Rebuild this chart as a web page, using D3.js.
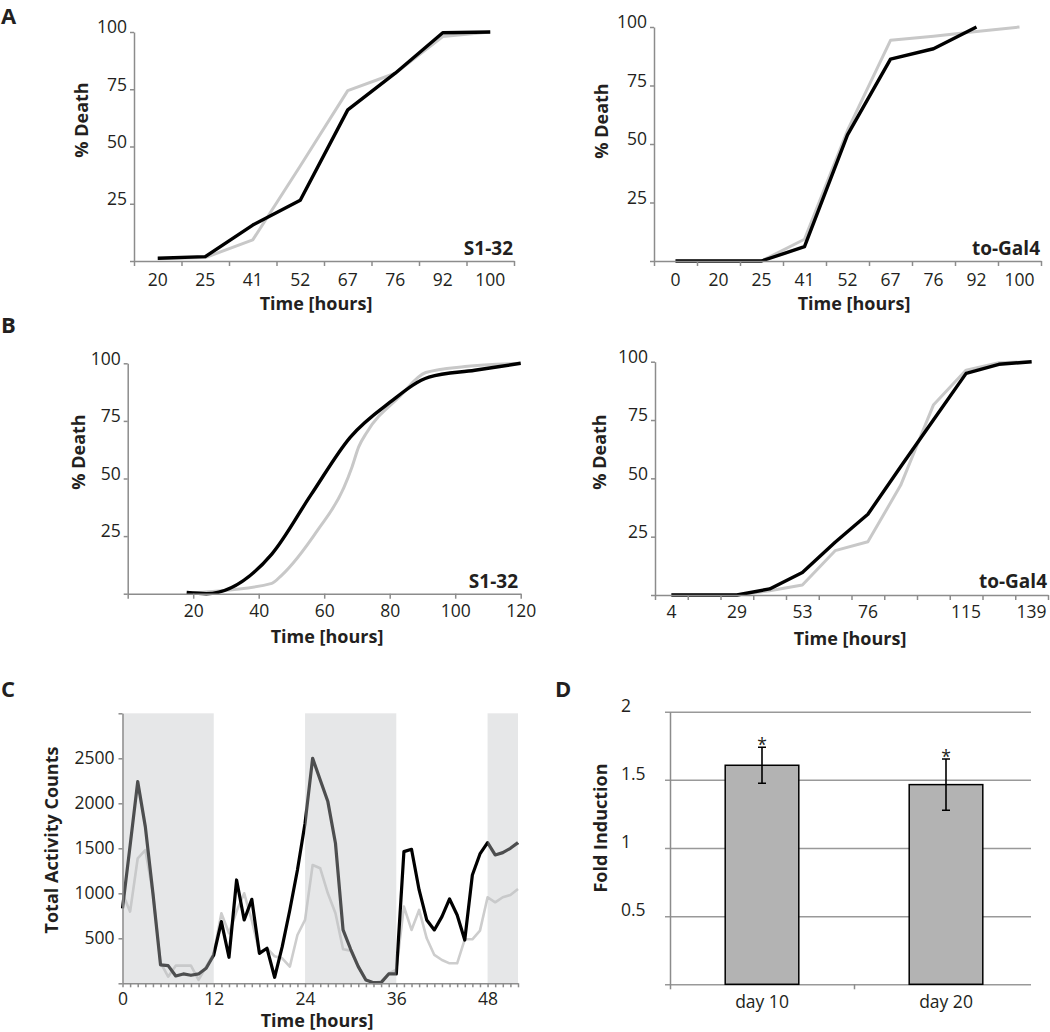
<!DOCTYPE html>
<meta charset="utf-8" />
<title>Survival curves, activity and fold induction</title>
<script src="https://cdn.jsdelivr.net/npm/d3@7/dist/d3.min.js"></script>

<style>
  body {
    margin: 0;
    padding: 0;
    background: #fff;
    font-family: "Open Sans", sans-serif;
  }

  .tick-label {
    font-family: "Open Sans", sans-serif;
    font-size: 17.5px;
    fill: #231f20;
  }

  .title {
    font-family: "Open Sans", sans-serif;
    font-size: 18px;
    font-weight: 700;
    fill: #231f20;
  }

  .caption {
    font-family: "Open Sans", sans-serif;
    font-size: 19px;
    font-weight: 700;
    fill: #231f20;
  }

  .letter {
    font-family: "Open Sans", sans-serif;
    font-size: 22px;
    font-weight: 700;
    fill: #231f20;
  }
</style>

<body>
  <svg id="fig" width="1050" height="1032"></svg>
</body>

<script>
  // ---- data ----

  // A: survival, categorical time axis
  const aLeftTimes = ["20", "25", "41", "52", "67", "76", "92", "100"];
  const aLeftBlack = [1.2, 1.9, 15.7, 26.5, 66, 82, 99.7, 100];
  const aLeftGray = [1, 1.5, 9.2, 41.5, 74.4, 82, 98, 100];

  const aRightTimes = ["0", "20", "25", "41", "52", "67", "76", "92", "100"];
  const aRightBlack = [0, 0, 0, 6.1, 53.9, 86.3, 90.7, 100];
  const aRightGray = [0, 0, 0, 9.3, 55.8, 94.3, 96, 98.1, 100];

  // B left: survival, linear time axis
  const bLeftBlackT = [18, 24, 44, 56, 68, 80, 92, 106, 120];
  const bLeftBlackV = [0.5, 0, 17.2, 43, 68, 83, 94, 97, 100];
  const bLeftGrayT = [19, 26, 44, 47, 58, 66, 68.5, 70.5, 73, 83, 91, 103, 120];
  const bLeftGrayV = [0.4, 1, 4.5, 8, 27.6, 46, 55, 63.6, 70, 85.5, 96, 98.6, 100];

  // B right: survival, categorical axis with only some labels printed
  const bRightLabels = ["4", "", "29", "", "53", "", "76", "", "", "115", "", "139"];
  const bRightBlack = [0, 0, 0, 2.6, 9.6, 22.6, 34.6, 55, 75, 95, 98.9, 100];
  const bRightGray = [0, 0, 0, 1.8, 4.3, 19, 22.8, 47, 81.4, 96.4, 99.6, 100];

  // C: activity counts, hourly
  const cHours = [0, 1, 2, 3, 4, 5, 6, 7, 8, 9, 10, 11, 12, 13, 14, 15, 16, 17, 18, 19, 20,
    21, 22, 23, 24, 25, 26, 27, 28, 29, 30, 31, 32, 33, 34, 35, 36, 37, 38, 39, 40,
    41, 42, 43, 44, 45, 46, 47, 48, 49, 50, 51, 52];
  const cBlack = [833, 1530, 2241, 1741, 1000, 204, 196, 81, 104, 89, 104, 167, 315,
    685, 289, 1148, 704, 933, 333, 389, 67, 407, 815, 1259, 1778,
    2500, 2259, 2019, 1556, 593, 378, 185, 37, 7, 7, 104, 104,
    1463, 1489, 1037, 704, 593, 741, 937, 759, 481, 1204, 1437,
    1563, 1426, 1452, 1500, 1563];
  const cGray = [1000, 796, 1389, 1481, 1000, 230, 74, 196, 196, 196, 37, 185, 333,
    778, 556, 800, 1000, 700, 340, 390, 300, 278, 185, 537, 704,
    1315, 1278, 1000, 778, 378, 363, 185, 44, 7, 19, 111, 150,
    852, 593, 815, 500, 315, 259, 222, 222, 489, 489, 585,
    956, 900, 956, 981, 1048];
  const cDark = [[0, 12], [24, 36], [48, 52]];
  const cYTicks = [0, 500, 1000, 1500, 2000, 2500, 3000];
  const cXTickLabels = [0, 12, 24, 36, 48];

  // D: fold induction
  const dDays = ["day 10", "day 20"];
  const dValues = [1.607, 1.465];
  const dErrors = [0.132, 0.188];
  const dYTicks = [0, 0.5, 1, 1.5, 2];

  // ---- drawing ----
  const axisColor = "#8c8c8c";
  const svg = d3.select("#fig");

  function styleAxis(g) {
    g.selectAll(".domain, .tick line")
      .attr("stroke", axisColor)
      .attr("stroke-width", 1.5);
    g.selectAll("text").attr("class", "tick-label").attr("fill", null);
    return g;
  }

  function addLine(data, x, y, color, width, curve) {
    svg.append("path")
      .datum(data)
      .attr("fill", "none")
      .attr("stroke", color)
      .attr("stroke-width", width)
      .attr("stroke-linejoin", "round")
      .attr("d", d3.line().x(x).y(y).curve(curve || d3.curveLinear));
  }

  function yTitle(text, x, y) {
    svg.append("text")
      .attr("class", "title")
      .attr("text-anchor", "middle")
      .attr("transform", "translate(" + x + "," + y + ") rotate(-90)")
      .text(text);
  }

  function xTitle(text, x, y) {
    svg.append("text")
      .attr("class", "title")
      .attr("text-anchor", "middle")
      .attr("x", x)
      .attr("y", y)
      .text(text);
  }

  function caption(text, x, y) {
    svg.append("text")
      .attr("class", "caption")
      .attr("text-anchor", "end")
      .attr("x", x)
      .attr("y", y)
      .text(text);
  }

  function deathAxisY(y, left) {
    const g = svg.append("g")
      .attr("transform", "translate(" + left + ",0)")
      .call(d3.axisLeft(y).tickValues([0, 25, 50, 75, 100]).tickSize(4).tickSizeOuter(0)
        .tickPadding(3).tickFormat(function (d) { return d ? d : ""; }));
    styleAxis(g);
    g.selectAll("text").attr("dy", "0.05em");
  }

  // survival panel on a category axis (ticks between categories)
  function bandPanel(p) {
    const n = p.labels.length;
    const y = d3.scaleLinear().domain([0, 100]).range([p.bottom, p.top]);
    const x = d3.scaleBand().domain(d3.range(n)).range([p.left, p.right]);
    const xEdge = d3.scaleLinear().domain([0, n]).range([p.left, p.right]);
    const cx = function (d, i) { return x(i) + x.bandwidth() / 2; };

    addLine(p.gray, cx, function (d) { return y(d); }, "#c8c8c8", 3);
    addLine(p.black, cx, function (d) { return y(d); }, "#000", 3.4);

    styleAxis(svg.append("g")
      .attr("transform", "translate(0," + p.bottom + ")")
      .call(d3.axisBottom(xEdge).tickValues(d3.range(n + 1)).tickSize(5).tickSizeOuter(0).tickFormat("")));

    const lab = svg.append("g")
      .attr("transform", "translate(0," + p.bottom + ")")
      .call(d3.axisBottom(x).tickSize(0).tickPadding(p.pad).tickFormat(function (i) { return p.labels[i]; }));
    lab.select(".domain").remove();
    styleAxis(lab);

    deathAxisY(y, p.left);
    caption(p.caption, p.right - 1, p.captionY);
  }

  // A
  bandPanel({ left: 134, right: 514, top: 32, bottom: 261, pad: 13,
    labels: aLeftTimes, black: aLeftBlack, gray: aLeftGray, caption: "S1-32", captionY: 255 });
  yTitle("% Death", 88, 120);
  xTitle("Time [hours]", 316, 310);

  bandPanel({ left: 654, right: 1041, top: 27, bottom: 261, pad: 13,
    labels: aRightTimes, black: aRightBlack, gray: aRightGray, caption: "to-Gal4", captionY: 255 });
  yTitle("% Death", 608, 121);
  xTitle("Time [hours]", 854, 310);

  // B left (linear hours)
  const xB1 = d3.scaleLinear().domain([0, 120]).range([127.7, 520.7]);
  const yB1 = d3.scaleLinear().domain([0, 100]).range([593.7, 363.3]);
  addLine(d3.zip(bLeftGrayT, bLeftGrayV), function (d) { return xB1(d[0]); },
    function (d) { return yB1(d[1]); }, "#c8c8c8", 3, d3.curveMonotoneX);
  addLine(d3.zip(bLeftBlackT, bLeftBlackV), function (d) { return xB1(d[0]); },
    function (d) { return yB1(d[1]); }, "#000", 3.4, d3.curveMonotoneX);
  styleAxis(svg.append("g")
    .attr("transform", "translate(0,593.7)")
    .call(d3.axisBottom(xB1).tickValues([0, 20, 40, 60, 80, 100, 120]).tickSize(5).tickSizeOuter(0)
      .tickPadding(6).tickFormat(function (d) { return d ? d : ""; })));
  deathAxisY(yB1, 127.7);
  caption("S1-32", 518, 588);
  yTitle("% Death", 85, 452);
  xTitle("Time [hours]", 327, 643);

  // B right
  bandPanel({ left: 655, right: 1048, top: 361.7, bottom: 595, pad: 11,
    labels: bRightLabels, black: bRightBlack, gray: bRightGray, caption: "to-Gal4", captionY: 588 });
  yTitle("% Death", 606, 452);
  xTitle("Time [hours]", 850, 645);

  // C
  const xC = d3.scaleLinear().domain([0, 52]).range([122.5, 518]);
  const yC = d3.scaleLinear().domain([0, 3000]).range([983.3, 713.3]);

  addLine(d3.zip(cHours, cGray), function (d) { return xC(d[0]); },
    function (d) { return yC(d[1]); }, "#cdcdcd", 2.6);
  addLine(d3.zip(cHours, cBlack), function (d) { return xC(d[0]); },
    function (d) { return yC(d[1]); }, "#000", 3.2);

  // dark phases, laid over the lines
  svg.selectAll(".dark")
    .data(cDark)
    .enter()
    .append("rect")
    .attr("x", function (d) { return xC(d[0]); })
    .attr("y", yC(3000))
    .attr("width", function (d) { return xC(d[1]) - xC(d[0]); })
    .attr("height", yC(0) - yC(3000))
    .attr("fill", "rgb(193,195,198)")
    .attr("opacity", 0.4);

  styleAxis(svg.append("g")
    .attr("transform", "translate(0,983.3)")
    .call(d3.axisBottom(xC).tickValues(cHours).tickSize(4).tickSizeOuter(0).tickPadding(5)
      .tickFormat(function (d) { return cXTickLabels.indexOf(d) >= 0 ? d : ""; })));
  styleAxis(svg.append("g")
    .attr("transform", "translate(122.5,0)")
    .call(d3.axisLeft(yC).tickValues(cYTicks).tickSize(4).tickSizeOuter(0).tickPadding(4)
      .tickFormat(function (d) { return d > 0 && d < 3000 ? d : ""; })));
  yTitle("Total Activity Counts", 58, 840);
  xTitle("Time [hours]", 317, 1027);

  // D
  const yD = d3.scaleLinear().domain([0, 2]).range([984.3, 711.7]);
  const xD = d3.scaleBand().domain(dDays).range([670, 1038]);
  const barW = xD.bandwidth() * 0.4;

  const grid = svg.append("g")
    .attr("transform", "translate(665,0)")
    .call(d3.axisLeft(yD).tickValues(dYTicks).tickSize(-366).tickFormat(""));
  grid.select(".domain").remove();
  grid.selectAll(".tick line").attr("stroke", "#999").attr("stroke-width", 1.5);

  styleAxis(svg.append("g")
    .attr("transform", "translate(670,0)")
    .call(d3.axisLeft(yD).tickValues([]).tickSizeOuter(0)));

  svg.selectAll(".dlab")
    .data(dYTicks.filter(function (d) { return d > 0; }))
    .enter()
    .append("text")
    .attr("class", "tick-label")
    .attr("x", 621)
    .attr("y", function (d) { return yD(d); })
    .text(function (d) { return d; });

  svg.selectAll(".bar")
    .data(dValues)
    .enter()
    .append("rect")
    .attr("x", function (d, i) { return xD(dDays[i]) + xD.bandwidth() / 2 - barW / 2; })
    .attr("y", function (d) { return yD(d); })
    .attr("width", barW)
    .attr("height", function (d) { return yD(0) - yD(d); })
    .attr("fill", "#b3b3b3")
    .attr("stroke", "#000")
    .attr("stroke-width", 1.5);

  dValues.forEach(function (v, i) {
    const cx = xD(dDays[i]) + xD.bandwidth() / 2;
    const lo = yD(v - dErrors[i]), hi = yD(v + dErrors[i]);
    svg.append("path")
      .attr("d", "M" + cx + "," + lo + "V" + hi +
        "M" + (cx - 4) + "," + lo + "H" + (cx + 4) +
        "M" + (cx - 4) + "," + hi + "H" + (cx + 4))
      .attr("stroke", "#000")
      .attr("stroke-width", 1.6)
      .attr("fill", "none");
    svg.append("text")
      .attr("class", "tick-label")
      .attr("text-anchor", "middle")
      .attr("x", cx)
      .attr("y", hi + 4)
      .text("*");
  });

  const dx = svg.append("g")
    .attr("transform", "translate(0,984.3)")
    .call(d3.axisBottom(d3.scaleLinear().domain([0, 2]).range([670, 1038]))
      .tickValues([0, 1]).tickSize(5).tickFormat(""));
  dx.select(".domain").remove();
  styleAxis(dx);
  const dl = svg.append("g")
    .attr("transform", "translate(0,984.3)")
    .call(d3.axisBottom(xD).tickSize(0).tickPadding(11));
  dl.select(".domain").remove();
  styleAxis(dl);
  yTitle("Fold Induction", 607, 828);

  // panel letters
  const letters = [["A", 1, 24], ["B", 1, 333], ["C", 1, 697], ["D", 555, 697]];
  svg.selectAll(".letter")
    .data(letters)
    .enter()
    .append("text")
    .attr("class", "letter")
    .attr("x", function (d) { return d[1]; })
    .attr("y", function (d) { return d[2]; })
    .text(function (d) { return d[0]; });
</script>
